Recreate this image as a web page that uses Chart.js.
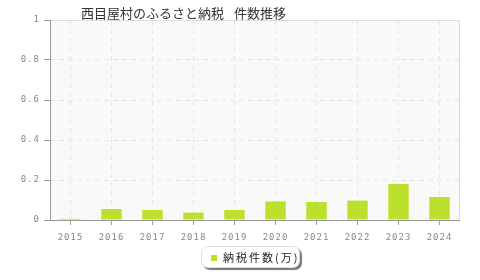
<!DOCTYPE html>
<html>
<head>
<meta charset="utf-8">
<script src="https://cdn.jsdelivr.net/npm/chart.js@4/dist/chart.umd.min.js"></script>
<style>
  html, body { margin: 0; padding: 0; background: #fff; }
  #wrap { position: relative; width: 480px; height: 280px; }
  #title { position: absolute; left: 81px; top: 3px; font: 13px "Noto Sans CJK JP", sans-serif; color: #333; white-space: nowrap; word-spacing: 7px; }
  #legend { position: absolute; left: 201px; top: 246px; width: 97px; height: 20px; border: 1px solid #ddd; border-radius: 7px;
            box-shadow: 2px 2px 1px #777; background: #fff; font: 11px "Noto Sans CJK JP", sans-serif; color: #222; letter-spacing: 2px; white-space: nowrap; }
  #legend .mk { position: absolute; left: 9px; top: 8px; width: 6px; height: 6px; background: #bce02e; }
  #legend .tx { position: absolute; left: 21px; top: 2px; }
  canvas { position: absolute; left: 0; top: 0; }
</style>
</head>
<body>
<div id="wrap">
  <canvas id="c" width="480" height="280"></canvas>
  <div id="title">西目屋村のふるさと納税 件数推移</div>
  <div id="legend"><span class="mk"></span><span class="tx">納税件数(万)</span></div>
</div>
<script>
const categories = ["2015","2016","2017","2018","2019","2020","2021","2022","2023","2024"];
const seriesName = "納税件数(万)";
const seriesValues = [0.006, 0.055, 0.05, 0.037, 0.05, 0.093, 0.09, 0.097, 0.18, 0.115];
const yTicks = [0, 0.2, 0.4, 0.6, 0.8, 1];

const plotBg = {
  id: 'plotBg',
  beforeDraw(chart) {
    const {ctx, chartArea: a} = chart;
    ctx.letterSpacing = '1px';
    ctx.save();
    ctx.fillStyle = '#f9f9f9';
    ctx.fillRect(a.left, a.top, a.right - a.left, a.bottom - a.top);
    ctx.restore();
  },
  afterDatasetsDraw(chart) {
    const {ctx, chartArea: a} = chart;
    ctx.save();
    ctx.strokeStyle = '#dddddd';
    ctx.lineWidth = 1;
    ctx.beginPath();
    ctx.moveTo(a.left, a.top + 0.5);
    ctx.lineTo(a.right - 0.5, a.top + 0.5);
    ctx.lineTo(a.right - 0.5, a.bottom);
    ctx.stroke();
    ctx.strokeStyle = '#999999';
    ctx.beginPath();
    ctx.moveTo(a.left + 0.5, a.top);
    ctx.lineTo(a.left + 0.5, a.bottom + 0.5);
    ctx.lineTo(a.right, a.bottom + 0.5);
    ctx.stroke();
    ctx.restore();
  }
};

const tickFont = { family: 'DejaVu Sans Mono, monospace', size: 9 };

new Chart(document.getElementById('c'), {
  type: 'bar',
  data: {
    labels: categories,
    datasets: [{
      label: seriesName,
      data: seriesValues,
      backgroundColor: '#bce02e',
      borderWidth: 0,
      barPercentage: 0.5,
      categoryPercentage: 1.0
    }]
  },
  options: {
    responsive: false,
    animation: false,
    devicePixelRatio: 1,
    layout: { padding: { top: 20, right: 20, left: 0, bottom: 0 } },
    plugins: { legend: { display: false }, title: { display: false }, tooltip: { enabled: false } },
    scales: {
      x: {
        grid: { offset: false, color: '#e6e6e6', tickColor: '#999', tickLength: 5, drawOnChartArea: true },
        border: { display: false, dash: [5, 4] },
        ticks: { color: '#888', font: tickFont, padding: 7, maxRotation: 0 },
        afterFit(s) { s.height = 60; }
      },
      y: {
        min: 0, max: 1,
        afterBuildTicks(s) { s.ticks = yTicks.map(v => ({ value: v })); },
        grid: { color: '#e6e6e6', tickColor: '#999', tickLength: 6 },
        border: { display: false, dash: [5, 4] },
        ticks: { color: '#888', font: tickFont, padding: 4, callback: v => String(v) },
        afterFit(s) { s.width = 50; }
      }
    }
  },
  plugins: [plotBg]
});
</script>
</body>
</html>
